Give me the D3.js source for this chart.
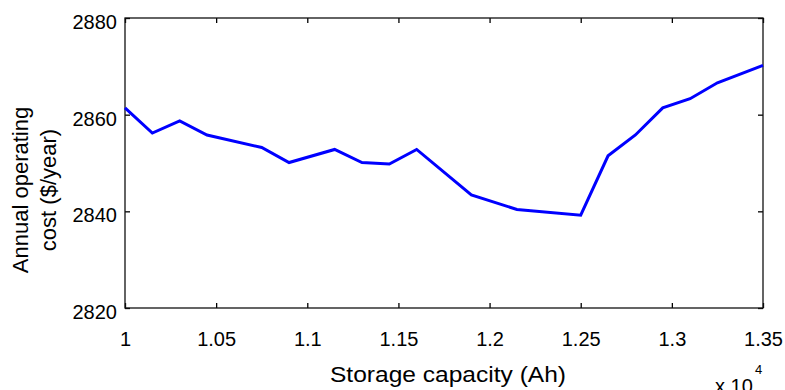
<!DOCTYPE html>
<html>
<head>
<meta charset="utf-8">
<script src="https://cdn.jsdelivr.net/npm/d3@7/dist/d3.min.js"></script>
<style>
  html, body { margin: 0; padding: 0; background: #fff; }
  svg { display: block; }
  text { font-family: "Liberation Sans", Arial, Helvetica, sans-serif; fill: #000; }
</style>
</head>
<body>
<svg id="chart" width="785" height="390"></svg>
<script>
// Storage capacity (Ah) of each simulated case
const capacity = [10000, 10150, 10300, 10450, 10750, 10900, 11150, 11300, 11450, 11600,
                  11900, 12150, 12500, 12650, 12800, 12950, 13100, 13250, 13500];
// Annual operating cost ($/year) for each capacity
const cost = [2861.4, 2856.2, 2858.7, 2855.8, 2853.2, 2850.1, 2852.8, 2850.1, 2849.8, 2852.8,
              2843.4, 2840.4, 2839.2, 2851.5, 2855.8, 2861.4, 2863.3, 2866.6, 2870.2];

// Axis ticks (x axis shown in units of 10^4 Ah)
const xTickValues = [10000, 10500, 11000, 11500, 12000, 12500, 13000, 13500];
const xTickLabels = ["1", "1.05", "1.1", "1.15", "1.2", "1.25", "1.3", "1.35"];
const yTickValues = [2820, 2840, 2860, 2880];
const yTickLabels = ["2820", "2840", "2860", "2880"];

const xTitle = "Storage capacity (Ah)";
const yTitleLines = ["Annual operating", "cost ($/year)"];

const plot = { left: 125, right: 763, top: 18, bottom: 308 };

const svg = d3.select("#chart");

const x = d3.scaleLinear().domain([10000, 13500]).range([plot.left, plot.right]);
const y = d3.scaleLinear().domain([2820, 2880]).range([plot.bottom, plot.top]);

const tickFont = 20;

// bottom axis with labels, ticks pointing inward
const xAxis = svg.append("g")
  .attr("transform", `translate(0,${plot.bottom})`)
  .call(d3.axisBottom(x)
    .tickValues(xTickValues)
    .tickFormat((d, i) => xTickLabels[i])
    .tickSizeInner(-5).tickSizeOuter(0).tickPadding(24));

// left axis with labels
const yAxis = svg.append("g")
  .attr("transform", `translate(${plot.left},0)`)
  .call(d3.axisLeft(y)
    .tickValues(yTickValues)
    .tickFormat((d, i) => yTickLabels[i])
    .tickSizeInner(-5).tickSizeOuter(0).tickPadding(8));

// top and right axes: ticks only
const xTop = svg.append("g")
  .attr("transform", `translate(0,${plot.top})`)
  .call(d3.axisTop(x).tickValues(xTickValues).tickFormat("")
    .tickSizeInner(-5).tickSizeOuter(0));
const yRight = svg.append("g")
  .attr("transform", `translate(${plot.right},0)`)
  .call(d3.axisRight(y).tickValues(yTickValues).tickFormat("")
    .tickSizeInner(-5).tickSizeOuter(0));

[xAxis, yAxis, xTop, yRight].forEach(g => {
  g.select(".domain").remove();
  g.selectAll(".tick line").attr("stroke", "#000").attr("stroke-width", 1.3);
  g.selectAll(".tick text")
    .attr("font-size", tickFont)
    .attr("font-family", '"Liberation Sans", Arial, sans-serif')
    .attr("fill", "#000");
});
yAxis.selectAll(".tick text").attr("dy", "0.52em");

// frame of the axes
svg.append("rect")
  .attr("x", plot.left).attr("y", plot.top)
  .attr("width", plot.right - plot.left).attr("height", plot.bottom - plot.top)
  .attr("fill", "none").attr("stroke", "#111").attr("stroke-width", 1.3);

// cost curve
const line = d3.line().x((d, i) => x(capacity[i])).y(d => y(d));
svg.append("path")
  .datum(cost)
  .attr("d", line)
  .attr("fill", "none")
  .attr("stroke", "#0000ff")
  .attr("stroke-width", 3)
  .attr("stroke-linejoin", "miter");

// x axis title
svg.append("text")
  .attr("x", 448)
  .attr("y", 382)
  .attr("text-anchor", "middle")
  .attr("font-size", 22)
  .attr("textLength", 236)
  .attr("lengthAdjust", "spacingAndGlyphs")
  .text(xTitle);

// exponent marker for x axis
svg.append("text")
  .attr("x", 715)
  .attr("y", 393)
  .attr("font-size", 20)
  .text("x 10");
svg.append("text")
  .attr("x", 755).attr("y", 374)
  .attr("font-size", 13)
  .text("4");

// y axis title (two lines, rotated)
const yt = svg.append("text")
  .attr("transform", "translate(28,190) rotate(-90)")
  .attr("text-anchor", "middle")
  .attr("font-size", 22);
yTitleLines.forEach((t, i) => {
  yt.append("tspan").attr("x", 0).attr("dy", i === 0 ? 0 : 28).text(t);
});
</script>
</body>
</html>
